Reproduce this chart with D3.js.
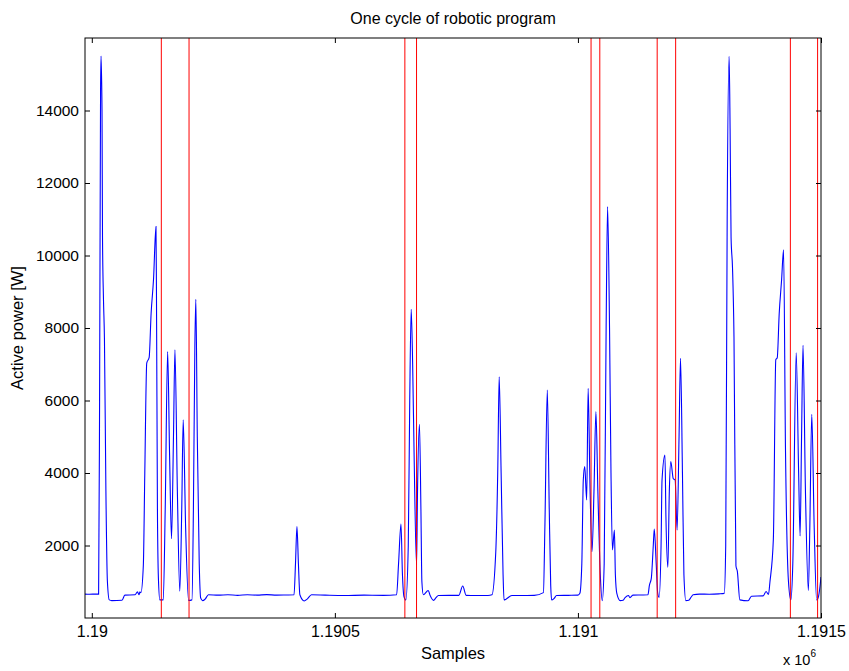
<!DOCTYPE html>
<html>
<head>
<meta charset="utf-8">
<script src="https://cdn.jsdelivr.net/npm/d3@7"></script>
<style>
  html, body { margin: 0; padding: 0; background: #fff; }
  svg { display: block; }
  text { font-family: "Liberation Sans", Arial, Helvetica, sans-serif; fill: #000; }
</style>
</head>
<body>
<svg id="chart" width="849" height="671"></svg>
<script>
// ---- data ----
const sampleIndex = [
 1189986,1189995,1190009,1190014,1190016,1190018,1190019,1190021,1190022,1190024,1190026,1190029,1190032,1190036,1190041,1190062,1190068,1190089,1190094,1190097,1190099,1190101,
 1190106,1190109,1190113,1190118,1190122,1190127,1190132,1190133,1190135,1190137,1190140,1190147,1190151,1190156,1190160,1190164,1190168,1190171,1190176,1190181,1190185,1190188,
 1190193,1190199,1190206,1190209,1190212,1190214,1190217,1190221,1190224,1190228,1190233,1190240,1190260,1190280,1190300,1190320,1190340,1190360,1190380,1190400,1190416,1190419,
 1190422,1190425,1190428,1190437,1190443,1190452,1190480,1190520,1190560,1190600,1190627,1190631,1190636,1190639,1190642,1190646,1190651,1190654,1190657,1190660,1190663,1190668,
 1190670,1190674,1190677,1190679,1190682,1190692,1190696,1190703,1190708,1190713,1190735,1190755,1190763,1190770,1190790,1190815,1190823,1190831,1190835,1190838,1190842,1190846,
 1190848,1190852,1190864,1190880,1190910,1190929,1190932,1190937,1190941,1190944,1190946,1190951,1190956,1190980,1191000,1191004,1191008,1191011,1191014,1191018,1191021,1191025,
 1191029,1191033,1191037,1191041,1191046,1191050,1191054,1191058,1191061,1191065,1191068,1191071,1191075,1191077,1191080,1191087,1191093,1191097,1191104,1191107,1191113,1191130,
 1191144,1191147,1191151,1191155,1191157,1191161,1191164,1191167,1191171,1191173,1191179,1191181,1191185,1191188,1191191,1191196,1191200,1191204,1191208,1191211,1191215,1191218,
 1191222,1191228,1191233,1191237,1191250,1191270,1191290,1191301,1191304,1191307,1191311,1191313,1191315,1191318,1191321,1191325,1191328,1191333,1191350,1191357,1191381,1191387,
 1191392,1191395,1191402,1191407,1191410,1191414,1191419,1191423,1191427,1191433,1191438,1191442,1191449,1191454,1191457,1191460,1191463,1191468,1191474,1191477,1191481,1191486,
 1191491,1191495,1191500
];
const activePower = [
 660,655,660,660,6000,14500,15500,14000,10500,8800,7700,3500,1030,500,480,490,630,640,720,640,720,700,
 1450,4000,7030,7190,8400,9350,10800,9000,3000,1100,500,500,3000,7350,4500,2190,5000,7400,3500,737,3000,5470,
 2500,485,500,3000,7500,8790,5000,1500,550,480,520,640,630,640,625,640,630,645,630,635,640,1500,
 2520,1500,640,470,520,640,630,620,630,625,640,1500,2590,1200,600,497,2000,6000,8515,7000,4500,1462,
 3500,5343,3000,1000,640,760,620,487,560,620,625,625,883,625,620,622,640,1830,4000,6657,4000,1200,
 497,520,620,620,625,700,2500,6290,3000,900,497,540,620,625,630,681,1500,3800,4175,3255,6336,3500,
 1830,3500,5692,3500,1200,478,1500,8000,11347,8000,4000,1876,2428,1200,680,480,490,560,620,560,630,635,
 640,900,1100,2000,2455,1500,700,570,2000,3807,4497,2800,1398,3500,4313,3850,3800,2428,5000,7163,4000,1200,
 478,490,580,640,660,655,665,680,2000,11000,15495,13500,10500,9650,7760,1440,1280,500,475,600,610,730,
 650,1000,2180,7127,7180,8390,9340,10158,4600,1020,500,1500,7316,4000,2264,5000,7526,3500,758,2500,5621,2500,
 495,600,1130
];
const eventSamples = [1190143, 1190200, 1190644, 1190668, 1191027, 1191045, 1191163, 1191201, 1191437, 1191493];
const xTicks = [1190000, 1190500, 1191000, 1191500];
const xTickLabels = ["1.19", "1.1905", "1.191", "1.1915"];
const yTicks = [2000, 4000, 6000, 8000, 10000, 12000, 14000];
const xDomain = [1189986, 1191500];
const yDomain = [0, 16000];

// ---- layout ----
const L = 85, R = 821, T = 38, B = 618;
const svg = d3.select("#chart");
const x = d3.scaleLinear().domain(xDomain).range([L, R]);
const y = d3.scaleLinear().domain(yDomain).range([B, T]);

const pts = sampleIndex.map((s, i) => [s, activePower[i]]);

svg.append("defs").append("clipPath").attr("id", "clip")
  .append("rect").attr("x", L).attr("y", T).attr("width", R - L).attr("height", B - T);

const plot = svg.append("g").attr("clip-path", "url(#clip)");

// blue power trace
plot.append("path")
  .datum(pts)
  .attr("fill", "none")
  .attr("stroke", "#0000ff")
  .attr("stroke-width", 1.1)
  .attr("d", d3.line().x(d => x(d[0])).y(d => y(d[1])).curve(d3.curveMonotoneX));

// red event lines
plot.selectAll("line.ev").data(eventSamples).enter().append("line")
  .attr("class", "ev")
  .attr("x1", d => x(d)).attr("x2", d => x(d))
  .attr("y1", T).attr("y2", B)
  .attr("stroke", "#ff0000").attr("stroke-width", 1);

// axes with inward ticks
const tick = 5;
const gxB = svg.append("g").attr("transform", `translate(0,${B})`)
  .call(d3.axisBottom(x).tickValues(xTicks).tickFormat((d, i) => xTickLabels[i]).tickSizeInner(-tick).tickSizeOuter(0).tickPadding(8));
const gxT = svg.append("g").attr("transform", `translate(0,${T})`)
  .call(d3.axisTop(x).tickValues(xTicks).tickFormat("").tickSizeInner(-tick).tickSizeOuter(0));
const gyL = svg.append("g").attr("transform", `translate(${L},0)`)
  .call(d3.axisLeft(y).tickValues(yTicks).tickFormat(d3.format("d")).tickSizeInner(-tick).tickSizeOuter(0).tickPadding(6));
const gyR = svg.append("g").attr("transform", `translate(${R},0)`)
  .call(d3.axisRight(y).tickValues(yTicks).tickFormat("").tickSizeInner(-tick).tickSizeOuter(0));

[gxB, gxT, gyL, gyR].forEach(g => {
  g.select(".domain").remove();
  g.selectAll(".tick line").attr("stroke", "#000").attr("stroke-width", 1);
  g.selectAll("text").attr("font-size", 16).attr("fill", "#000")
    .attr("font-family", '"Liberation Sans", Arial, sans-serif');
});
gyL.selectAll("text").attr("font-size", 15.5);

// box
svg.append("rect").attr("x", L).attr("y", T).attr("width", R - L).attr("height", B - T)
  .attr("fill", "none").attr("stroke", "#000").attr("stroke-width", 1);

// titles
svg.append("text").attr("x", (L + R) / 2).attr("y", 24).attr("text-anchor", "middle")
  .attr("font-size", 16).text("One cycle of robotic program");
svg.append("text").attr("x", (L + R) / 2).attr("y", 659).attr("text-anchor", "middle")
  .attr("font-size", 16.5).text("Samples");
svg.append("text").attr("transform", `translate(23,${(T + B) / 2}) rotate(-90)`)
  .attr("text-anchor", "middle").attr("font-size", 16.5).text("Active power [W]");
const ex = svg.append("text").attr("x", 783).attr("y", 665).attr("font-size", 14.5);
ex.append("tspan").text("x 10");
ex.append("tspan").attr("font-size", 10).attr("dy", -8).text("6");
</script>
</body>
</html>
